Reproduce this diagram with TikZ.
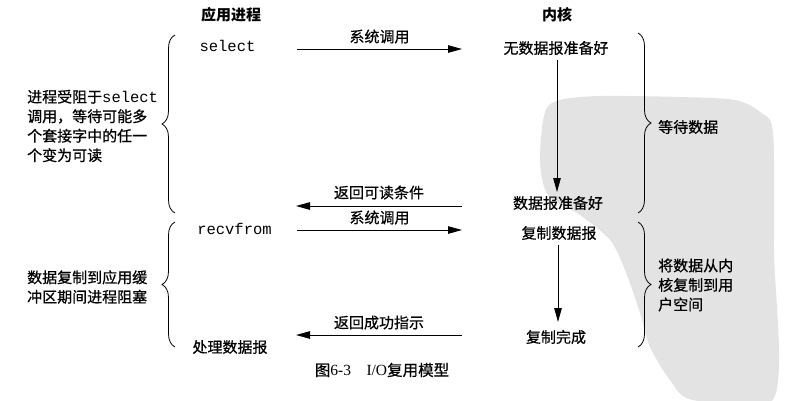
\documentclass[tikz,border=0pt]{standalone}
\usepackage{fontspec}
\setmainfont{Liberation Serif}
\newfontfamily\cjk[FakeBold=0.6]{Noto Sans CJK SC}
\newfontfamily\cjkhead{Noto Sans CJK SC}
\newfontfamily\mono{Liberation Mono}
\usetikzlibrary{decorations.pathreplacing,arrows.meta}

\tikzset{
  lbl/.style={font=\cjk\fontsize{15}{19.5}\selectfont, inner sep=0pt},
  head/.style={font=\cjkhead\bfseries\fontsize{15}{18}\selectfont, inner sep=0pt},
  code/.style={font=\mono\fontsize{15.5}{18}\selectfont, inner sep=0pt},
  note/.style={lbl, align=left, anchor=west},
  flow/.style={-{Triangle[length=14pt,width=7.5pt]}, line width=1pt},
  brc/.style={decorate, decoration={brace, amplitude=13pt, aspect=0.5}, line width=0.8pt},
  stamp/.style={fill=black!11, draw=none}
}

\begin{document}
\begin{tikzpicture}[x=1pt, y=-1pt]
  \useasboundingbox (0,0) rectangle (792,400);

  % pale stamp in the background
  \fill[stamp] plot[smooth cycle, tension=0.5] coordinates {
    (545,112) (560,100) (600,96) (680,97) (735,100) (760,112) (773,133)
    (774,250) (774,398) (693,400) (670,380) (650,347) (640,313) (625,270)
    (610,240) (580,215) (548,195) (540,160)};

  % column headings
  \node[head] (app) at (231,15) {应用进程};
  \node[head] (ker) at (557,15) {内核};

  % application side
  \node[code] (sel)  at (227.5,46) {select};
  \node[code] (recv) at (234.5,229) {recvfrom};
  \node[lbl]  (proc) at (230,347) {处理数据报};

  % kernel side
  \node[lbl] (nodg) at (556,48)  {无数据报准备好};
  \node[lbl] (dgr)  at (558,203) {数据报准备好};
  \node[lbl] (copy) at (559,233) {复制数据报};
  \node[lbl] (done) at (556,337) {复制完成};

  % connector end points
  \coordinate (c1a) at (297,49);  \coordinate (c1b) at (462,49);
  \coordinate (c2a) at (462,206); \coordinate (c2b) at (296,206);
  \coordinate (c3a) at (297,230); \coordinate (c3b) at (462,230);
  \coordinate (c4a) at (462,335); \coordinate (c4b) at (296,335);
  \coordinate (v1a) at (557,60);  \coordinate (v1b) at (557,192);
  \coordinate (v2a) at (558,245); \coordinate (v2b) at (558,322);

  % calls and returns
  \draw[flow] (c1a) -- node[lbl, above=5pt] {系统调用} (c1b);
  \draw[flow] (c2a) -- node[lbl, above=6pt] {返回可读条件} (c2b);
  \draw[flow] (c3a) -- node[lbl, above=5pt] {系统调用} (c3b);
  \draw[flow] (c4a) -- node[lbl, above=5pt] {返回成功指示} (c4b);

  % kernel progress
  \draw[flow] (v1a) -- (v1b);
  \draw[flow] (v2a) -- (v2b);

  % braces: blocking periods on the left, kernel phases on the right
  \draw[brc] (175,213) -- (175,35);
  \draw[brc] (175,347) -- (175,222);
  \draw[brc] (638,33) -- (638,213);
  \draw[brc] (638,222) -- (638,347);

  \node[note] (blk1) at (27,126)
    {进程受阻于{\mono\fontsize{15.5}{19.5}\selectfont select}\\调用，等待可能多\\个套接字中的任一\\个变为可读};
  \node[note] (blk2) at (27,287) {数据复制到应用缓\\冲区期间进程阻塞};
  \node[note] (wait) at (658,127) {等待数据};
  \node[note] (cpy)  at (658,285) {将数据从内\\核复制到用\\户空间};

  % caption
  \node[inner sep=0pt, font=\fontsize{15.5}{18}\selectfont] (cap) at (382,370)
    {{\cjk 图}6-3\quad I/O{\cjk 复用模型}};
\end{tikzpicture}
\end{document}
